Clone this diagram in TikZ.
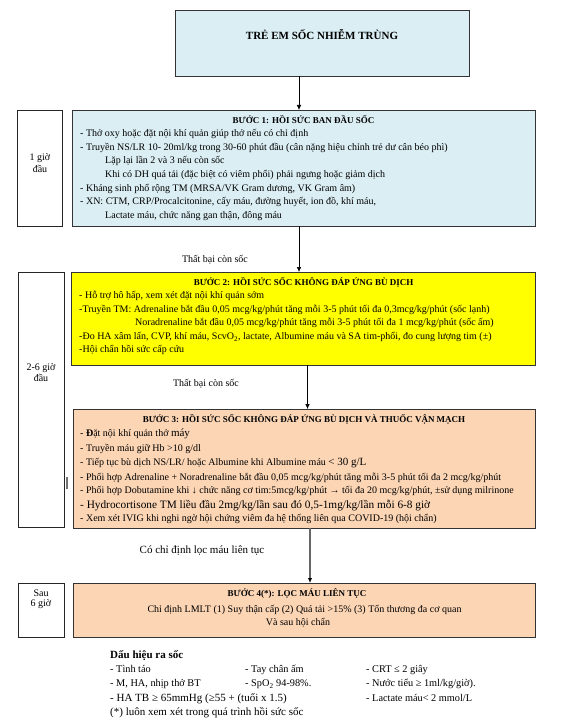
\documentclass[tikz,border=0pt]{standalone}
\usepackage{fontspec}
\setmainfont{Liberation Serif}
\usetikzlibrary{arrows.meta}
\definecolor{boxblue}{RGB}{219,238,244}
\definecolor{boxyellow}{RGB}{255,255,0}
\definecolor{boxpeach}{RGB}{252,213,180}
\newcommand\myfn{\fontsize{10}{12}\selectfont}
\newcommand\myfb{\fontsize{9}{11}\selectfont\bfseries}
\newcommand\myfl{\fontsize{11}{13}\selectfont}
\newcommand\myfs{\fontsize{10.3}{12}\selectfont}
\begin{document}
\begin{tikzpicture}[x=1pt,y=-1pt,
  box/.style={draw=black!80, line width=0.9pt, anchor=north west, inner sep=0, outer sep=0},
  sidebox/.style={draw=black!85, line width=0.8pt, fill=white, anchor=north west, inner sep=0, outer sep=0},
  ln/.style={anchor=base west, inner sep=0, font=\myfn},
  ttl/.style={anchor=base, inner sep=0, font=\myfb},
  ctr/.style={anchor=base, inner sep=0, font=\myfn},
  arr/.style={-{Latex[length=5pt,width=4.5pt,color=black]}, line width=0.6pt, black},
]
\useasboundingbox (0,0) rectangle (575,719);
\fill[white] (0,0) rectangle (575,719);

% boxes
\node[box, fill=boxblue, minimum width=294pt, minimum height=66pt] (top) at (175,10) {};
\node[box, fill=boxblue, minimum width=463pt, minimum height=116pt] (b1) at (72,110) {};
\node[box, fill=boxyellow, minimum width=464pt, minimum height=93pt] (b2) at (71,272) {};
\node[box, fill=boxpeach, minimum width=462pt, minimum height=119pt] (b3) at (73,409) {};
\node[box, fill=boxpeach, minimum width=462pt, minimum height=54pt] (b4) at (73,583) {};

\node[sidebox, minimum width=45pt, minimum height=116pt] (l1) at (17,110) {};
\node[sidebox, minimum width=46pt, minimum height=255pt] (l2) at (18,272) {};
\node[sidebox, minimum width=46pt, minimum height=54pt] (l4) at (18,583) {};

% top title
\node[anchor=base, inner sep=0, font=\fontsize{11}{13}\selectfont\bfseries] (tt) at (322,40) {TRẺ EM SỐC NHIỄM TRÙNG};

% side labels
\node[ctr] (l1a) at (40,160.5) {1 giờ};
\node[ctr] (l1b) at (40,172.5) {đầu};
\node[ctr] (l2a) at (41,370.5) {2-6 giờ};
\node[ctr] (l2b) at (41,381) {đầu};
\node[ctr] (l4a) at (41,596.5) {Sau};
\node[ctr] (l4b) at (41,606.5) {6 giờ};

% box 1
\node[ttl] (t1) at (303.5,123.5) {BƯỚC 1: HỒI SỨC BAN ĐẦU SỐC};
\node[ln] (a1) at (80,137) {- Thở oxy hoặc đặt nội khí quản giúp thở nếu có chỉ định};
\node[ln] (a2) at (80,150.5) {- Truyền NS/LR 10- 20ml/kg trong 30-60 phút đầu (cân nặng hiệu chỉnh trẻ dư cân béo phì)};
\node[ln] (a3) at (105,164) {Lặp lại lần 2 và 3 nếu còn sốc};
\node[ln] (a4) at (105,177.5) {Khi có DH quá tải (đặc biệt có viêm phổi) phải ngưng hoặc giảm dịch};
\node[ln] (a5) at (80,191.5) {- Kháng sinh phổ rộng TM (MRSA/VK Gram dương, VK Gram âm)};
\node[ln] (a6) at (80,205) {- XN: CTM, CRP/Procalcitonine, cấy máu, đường huyết, ion đồ, khí máu,};
\node[ln] (a7) at (105,218.5) {Lactate máu, chức năng gan thận, đông máu};

% box 2
\node[ttl] (t2) at (303.5,285.5) {BƯỚC 2: HỒI SỨC SỐC KHÔNG ĐÁP ỨNG BÙ DỊCH};
\node[ln] (c1) at (79,298.5) {- Hỗ trợ hô hấp, xem xét đặt nội khí quản sớm};
\node[ln] (c2) at (79,312.5) {-Truyền TM: Adrenaline bắt đầu 0,05 mcg/kg/phút tăng mỗi 3-5 phút tối đa 0,3mcg/kg/phút (sốc lạnh)};
\node[ln] (c3) at (135,325.5) {Noradrenaline bắt đầu 0,05 mcg/kg/phút tăng mỗi 3-5 phút tối đa 1 mcg/kg/phút (sốc ấm)};
\node[ln] (c4) at (79,339.5) {-Đo HA xâm lấn, CVP, khí máu, ScvO\textsubscript{2}, lactate, Albumine máu và SA tim-phổi, đo cung lượng tim (±)};
\node[ln] (c5) at (79,352.5) {-Hội chẩn hồi sức cấp cứu};

% box 3
\node[ttl] (t3) at (304,422.5) {BƯỚC 3: HỒI SỨC SỐC KHÔNG ĐÁP ỨNG BÙ DỊCH VÀ THUỐC VẬN MẠCH};
\node[ln] (d1) at (80,436.5) {- \textbf{Đ}ặt nội khí quản thở {\myfl máy}};
\node[ln] (d2) at (80,451.5) {- Truyền máu giữ Hb >10 g/dl};
\node[ln] (d3) at (80,465.5) {- Tiếp tục bù dịch NS/LR/ hoặc Albumine khi Albumine máu {\myfl < 30 g/L}};
\node[ln] (d4) at (80,480.5) {- Phối hợp Adrenaline + Noradrenaline bắt đầu 0,05 mcg/kg/phút tăng mỗi 3-5 phút tối đa 2 mcg/kg/phút};
\node[ln] (d5) at (80,493.5) {- Phối hợp Dobutamine khi ↓ chức năng cơ tim:5mcg/kg/phút → tối đa 20 mcg/kg/phút, ±sử dụng milrinone};
\node[ln, font=\fontsize{11.3}{13}\selectfont] (d6) at (80,508) {- Hydrocortisone TM liều đầu 2mg/kg/lần sau đó 0,5-1mg/kg/lần mỗi 6-8 giờ};
\node[ln] (d7) at (80,521.5) {- Xem xét IVIG khi nghi ngờ hội chứng viêm đa hệ thống liên qua COVID-19 (hội chẩn)};

% box 4
\node[ttl] (t4) at (297,596.5) {BƯỚC 4(*): LỌC MÁU LIÊN TỤC};
\node[ctr] (e1) at (304.5,612.5) {Chỉ định LMLT (1) Suy thận cấp (2) Quá tải >15\% (3) Tổn thương đa cơ quan};
\node[ctr] (e2) at (298,625.5) {Và sau hội chẩn};

% transition labels
\node[ctr] (f1) at (215,262.5) {Thất bại còn sốc};
\node[ctr] (f2) at (206,386.5) {Thất bại còn sốc};
\node[anchor=base, inner sep=0, font=\myfl] (f3) at (202,553) {Có chỉ định lọc máu liên tục};

% connectors
\coordinate (p1) at (299,226);
\coordinate (p2) at (307.5,365);
\coordinate (p3) at (310,528);
\draw[arr] (top.south -| 299,0) -- (b1.north -| 299,0);
\draw[arr] (p1) -- (p1 |- b2.north);
\draw[arr] (p2) -- (p2 |- b3.north);
\draw[arr, draw=black!60, line width=1.1pt] (p3) -- (p3 |- b4.north);

% stray mark
\coordinate (s1) at (67,477);
\coordinate (s2) at (67,489);
\draw[black!55, line width=1.3pt] (s1) -- (s2);

% bottom legend
\node[anchor=base west, inner sep=0, font=\fontsize{11}{13}\selectfont\bfseries] (g0) at (110,658) {Dấu hiệu ra sốc};
\node[anchor=base west, inner sep=0, font=\myfs] (g1) at (110,672.5) {- Tình táo};
\node[anchor=base west, inner sep=0, font=\myfs] (g2) at (245,672.5) {- Tay chân ấm};
\node[anchor=base west, inner sep=0, font=\myfs] (g3) at (366,672.5) {- CRT ≤ 2 giây};
\node[anchor=base west, inner sep=0, font=\myfs] (g4) at (110,686.5) {- M, HA, nhịp thở BT};
\node[anchor=base west, inner sep=0, font=\myfs] (g5) at (245,686.5) {- SpO\textsubscript{2} 94-98\%.};
\node[anchor=base west, inner sep=0, font=\myfs] (g6) at (366,686.5) {- Nước tiểu ≥ 1ml/kg/giờ).};
\node[anchor=base west, inner sep=0, font=\myfl] (g7) at (110,701) {- HA TB ≥ 65mmHg (≥55 + (tuổi x 1.5)};
\node[anchor=base west, inner sep=0, font=\myfs] (g8) at (366,701) {- Lactate máu< 2 mmol/L};
\node[anchor=base west, inner sep=0, font=\myfl] (g9) at (110,715.5) {(*) luôn xem xét trong quá trình hồi sức sốc};
\end{tikzpicture}
\end{document}
